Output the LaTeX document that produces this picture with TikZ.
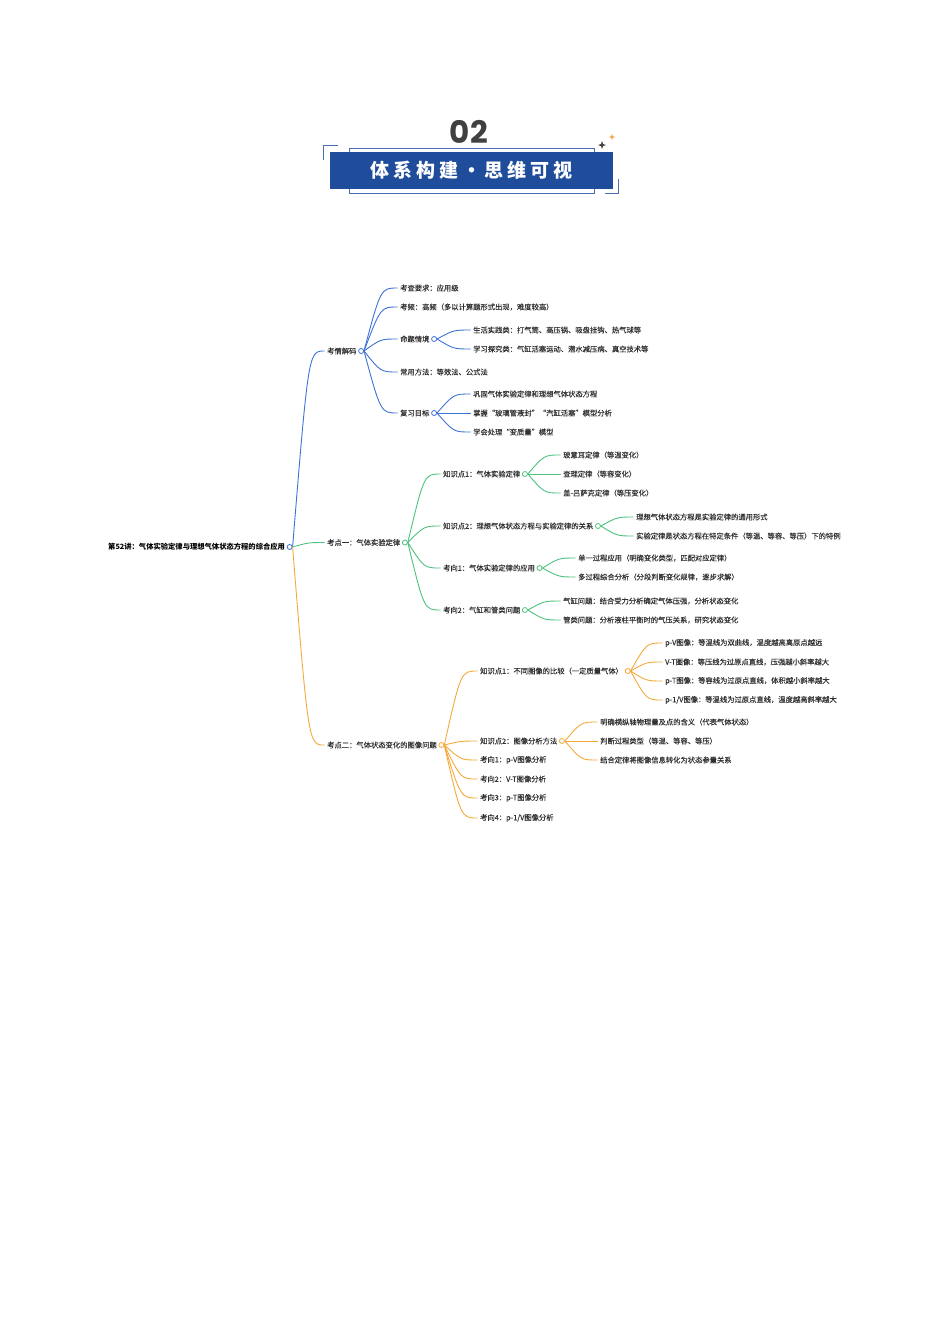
\documentclass[tikz,border=0pt]{standalone}
\usepackage{fontspec}
\newfontfamily\cjk[FakeBold=0.12]{Noto Sans CJK SC}
\newfontfamily\cjkb{Noto Sans CJK SC}
\newfontfamily\popfont{Poppins}
\usetikzlibrary{calc}
\definecolor{bl}{HTML}{3D72D6}
\definecolor{gr}{HTML}{4DC27E}
\definecolor{og}{HTML}{F4A93A}
\definecolor{txt}{HTML}{303030}
\definecolor{banner}{HTML}{1F4D9B}
\definecolor{framec}{HTML}{4A6DB0}
\definecolor{numgray}{HTML}{404040}
\definecolor{starc}{HTML}{F0A040}
\newcommand\mmlink[3]{\draw[#1] let \p1=(#2), \p2=(#3) in (\p1) .. controls ($(\x1,\y2)!0.5!(\p2)$) .. (\p2);}
\newcommand\ls{\hspace{3.8pt}}
\begin{document}
\begin{tikzpicture}[x=1pt,y=-1pt,
  mt/.style={anchor=west, inner xsep=2.5pt, inner ysep=1pt, xshift=-2.5pt, font=\cjk\fontsize{7.3}{8}\selectfont, text=txt},
  rt/.style={mt, font=\cjkb\bfseries\fontsize{7.3}{8}\selectfont, text=black},
  circ/.style={circle, draw=#1, fill=white, minimum size=5pt, inner sep=0pt, line width=0.8pt},
  ln/.style={draw=#1, line width=0.9pt},
  fr/.style={draw=framec, line width=1pt},
]
\useasboundingbox (0,0) rectangle (950,1344);

% ---------- header ----------
\node[font=\popfont\bfseries\fontsize{31}{34}\selectfont, text=numgray, inner sep=0pt] (num) at (469,132) {0\hspace{1.5pt}2};
\draw[fr] (323,160) -- (323,145) -- (338,145);
\draw[fr] (349,152) -- (349,148) -- (594,148) -- (594,152);
\draw[fr] (349,189) -- (349,193) -- (594,193) -- (594,189);
\draw[fr] (605,193) -- (618,193) -- (618,179);
\node[fill=banner, minimum width=283pt, minimum height=37pt, inner sep=0pt,
      font=\cjkb\bfseries\fontsize{19}{20}\selectfont, text=white] (banner) at (471.5,170.5)
      {体\ls 系\ls 构\ls 建\ls ・\ls 思\ls 维\ls 可\ls 视};
\fill[numgray] (602,141) -- (603,144) -- (606,145) -- (603,146) -- (602,149) -- (601,146) -- (598,145) -- (601,144) -- cycle;
\fill[starc] (612,134) -- (612.8,136.2) -- (615,137) -- (612.8,137.8) -- (612,140) -- (611.2,137.8) -- (609,137) -- (611.2,136.2) -- cycle;

% ---------- root ----------
\node[rt] (root) at (108,547) {第52讲：气体实验定律与理想气体状态方程的综合应用};
\node[circ=bl] (rootc) at ([xshift=2pt]root.east) {};

% ---------- blue branch ----------
\node[mt] (a) at (327,351) {考情解码};
\node[circ=bl] (ac) at ([xshift=2pt]a.east) {};
\node[mt] (a1) at (400,288) {考查要求：应用级};
\node[mt] (a2) at (400,307) {考频：高频（多以计算题形式出现，难度较高）};
\node[mt] (a3) at (400,339) {命题情境};
\node[circ=bl] (a3c) at ([xshift=2pt]a3.east) {};
\node[mt] (a31) at (473,330) {生活实践类：打气筒、高压锅、吸盘挂钩、热气球等};
\node[mt] (a32) at (473,349) {学习探究类：气缸活塞运动、潜水减压病、真空技术等};
\node[mt] (a4) at (400,372) {常用方法：等效法、公式法};
\node[mt] (a5) at (400,413) {复习目标};
\node[circ=bl] (a5c) at ([xshift=2pt]a5.east) {};
\node[mt] (a51) at (473,394) {巩固气体实验定律和理想气体状态方程};
\node[mt] (a52) at (473,413) {掌握“玻璃管液封”“汽缸活塞”模型分析};
\node[mt] (a53) at (473,432) {学会处理“变质量”模型};

% ---------- green branch ----------
\node[mt] (b) at (327,542.5) {考点一：气体实验定律};
\node[circ=gr] (bc) at ([xshift=2pt]b.east) {};
\node[mt] (b1) at (443,474) {知识点1：气体实验定律};
\node[circ=gr] (b1c) at ([xshift=2pt]b1.east) {};
\node[mt] (b11) at (563,455) {玻意耳定律（等温变化）};
\node[mt] (b12) at (563,474) {查理定律（等容变化）};
\node[mt] (b13) at (563,493) {盖-吕萨克定律（等压变化）};
\node[mt] (b2) at (443,526) {知识点2：理想气体状态方程与实验定律的关系};
\node[circ=gr] (b2c) at ([xshift=2pt]b2.east) {};
\node[mt] (b21) at (636,517) {理想气体状态方程是实验定律的通用形式};
\node[mt] (b22) at (636,536) {实验定律是状态方程在特定条件（等温、等容、等压）下的特例};
\node[mt] (b3) at (443,568) {考向1：气体实验定律的应用};
\node[circ=gr] (b3c) at ([xshift=2pt]b3.east) {};
\node[mt] (b31) at (578,558) {单一过程应用（明确变化类型，匹配对应定律）};
\node[mt] (b32) at (578,577) {多过程综合分析（分段判断变化规律，逐步求解）};
\node[mt] (b4) at (443,610) {考向2：气缸和管类问题};
\node[circ=gr] (b4c) at ([xshift=2pt]b4.east) {};
\node[mt] (b41) at (563,601) {气缸问题：结合受力分析确定气体压强，分析状态变化};
\node[mt] (b42) at (563,620) {管类问题：分析液柱平衡时的气压关系，研究状态变化};

% ---------- orange branch ----------
\node[mt] (c) at (327,745) {考点二：气体状态变化的图像问题};
\node[circ=og] (cc) at ([xshift=2pt]c.east) {};
\node[mt] (c1) at (480,671) {知识点1：不同图像的比较（一定质量气体）};
\node[circ=og] (c1c) at ([xshift=2pt]c1.east) {};
\node[mt] (c11) at (665,643) {p-V图像：等温线为双曲线，温度越高离原点越远};
\node[mt] (c12) at (665,662) {V-T图像：等压线为过原点直线，压强越小斜率越大};
\node[mt] (c13) at (665,681) {p-T图像：等容线为过原点直线，体积越小斜率越大};
\node[mt] (c14) at (665,700) {p-1/V图像：等温线为过原点直线，温度越高斜率越大};
\node[mt] (c2) at (480,741) {知识点2：图像分析方法};
\node[circ=og] (c2c) at ([xshift=2pt]c2.east) {};
\node[mt] (c21) at (600,722) {明确横纵轴物理量及点的含义（代表气体状态）};
\node[mt] (c22) at (600,741) {判断过程类型（等温、等容、等压）};
\node[mt] (c23) at (600,760) {结合定律将图像信息转化为状态参量关系};
\node[mt] (c3) at (480,760) {考向1：p-V图像分析};
\node[mt] (c4) at (480,779) {考向2：V-T图像分析};
\node[mt] (c5) at (480,798) {考向3：p-T图像分析};
\node[mt] (c6) at (480,818) {考向4：p-1/V图像分析};

% ---------- connectors ----------
\mmlink{ln=bl}{rootc.east}{a.west}
\mmlink{ln=gr}{rootc.east}{b.west}
\mmlink{ln=og}{rootc.east}{c.west}
\foreach \s/\t in {ac/a1, ac/a2, ac/a3, ac/a4, ac/a5, a3c/a31, a3c/a32, a5c/a51, a5c/a52, a5c/a53}
  {\mmlink{ln=bl}{\s.east}{\t.west}}
\foreach \s/\t in {bc/b1, bc/b2, bc/b3, bc/b4, b1c/b11, b1c/b12, b1c/b13, b2c/b21, b2c/b22, b3c/b31, b3c/b32, b4c/b41, b4c/b42}
  {\mmlink{ln=gr}{\s.east}{\t.west}}
\foreach \s/\t in {cc/c1, cc/c2, cc/c3, cc/c4, cc/c5, cc/c6, c1c/c11, c1c/c12, c1c/c13, c1c/c14, c2c/c21, c2c/c22, c2c/c23}
  {\mmlink{ln=og}{\s.east}{\t.west}}
\end{tikzpicture}
\end{document}
